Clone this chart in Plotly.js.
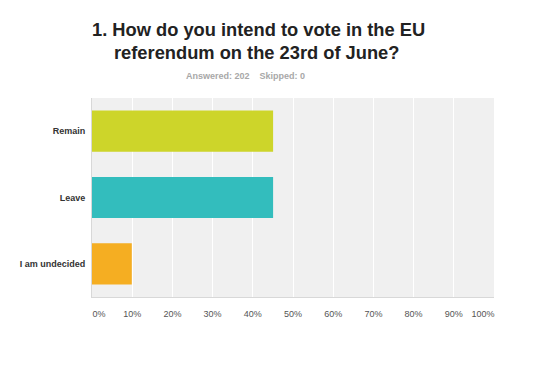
<!DOCTYPE html>
<html><head><meta charset="utf-8">
<script src="https://cdn.plot.ly/plotly-3.0.1.min.js"></script>
<style>html,body{margin:0;padding:0;background:#fff;}#chart{width:553px;height:369px;}</style>
</head><body><div id="chart"></div>
<script>
const categories = ["Remain", "Leave", "I am undecided"];
const percents = [45.05, 45.05, 9.90];
const barColors = ["#cdd52a", "#33bdbd", "#f5ae22"];
const tickVals = [10, 20, 30, 40, 50, 60, 70, 80, 90];
const tickText = ["10%", "20%", "30%", "40%", "50%", "60%", "70%", "80%", "90%"];
const firstTickVal = [0];
const firstTickText = ["0%"];
const lastTickVal = [100];
const lastTickText = ["100%"];
const titleLines = ["1. How do you intend to vote in the EU", "referendum on the 23rd of June?"];
const statsText = "Answered: 202 &nbsp;&nbsp; Skipped: 0";

const font = "Arial, 'Liberation Sans', sans-serif";
const tickFont = {size: 9, color: "#555555", family: font};
const trace = {
  type: "bar", orientation: "h",
  y: categories, x: percents,
  marker: {color: barColors},
  width: 0.62,
  hoverinfo: "none"
};
function overlayAxis(vals, text, shift) {
  return {
    overlaying: "x", range: [0, 100], tickvals: vals, ticktext: text,
    side: "bottom", showgrid: false, zeroline: false, showline: false,
    tickfont: tickFont, ticks: "", ticklabelstandoff: 10, ticklabelshift: shift
  };
}
const layout = {
  width: 553, height: 369,
  margin: {l: 92, r: 59, t: 98, b: 72},
  paper_bgcolor: "#ffffff", plot_bgcolor: "#f0f0f0",
  showlegend: false,
  font: {family: font},
  xaxis: {
    range: [0, 100], tickvals: tickVals, ticktext: tickText,
    showgrid: true, gridcolor: "#ffffff", gridwidth: 1,
    zeroline: false, showline: true, linecolor: "#d8d8d8", linewidth: 1,
    tickfont: tickFont, ticks: "", ticklabelstandoff: 8, fixedrange: true
  },
  xaxis2: overlayAxis(firstTickVal, firstTickText, 7),
  xaxis3: overlayAxis(lastTickVal, lastTickText, -11),
  yaxis: {
    autorange: "reversed", showgrid: false, zeroline: false,
    showline: true, linecolor: "#d8d8d8", linewidth: 1,
    tickfont: {size: 9, color: "#333333", family: font, weight: "bold"},
    ticks: "", ticklabelstandoff: 4
  },
  annotations: [
    {text: "<b>" + titleLines[0] + "</b>", xref: "paper", yref: "paper", x: -0.005, y: 1.0, yshift: 69,
     xanchor: "left", yanchor: "middle", showarrow: false, font: {size: 18.3, color: "#222222", family: font}},
    {text: "<b>" + titleLines[1] + "</b>", xref: "paper", yref: "paper", x: 0.05, y: 1.0, yshift: 46,
     xanchor: "left", yanchor: "middle", showarrow: false, font: {size: 18.3, color: "#222222", family: font}},
    {text: "<b>" + statsText + "</b>", xref: "paper", yref: "paper", x: 0.382, y: 1.0, yshift: 22,
     xanchor: "center", yanchor: "middle", showarrow: false, font: {size: 9, color: "#a8a8a8", family: font}}
  ]
};
const dummy2 = {type: "scatter", x: [0], y: [categories[0]], xaxis: "x2", mode: "markers", marker: {opacity: 0}, hoverinfo: "none"};
const dummy3 = {type: "scatter", x: [100], y: [categories[0]], xaxis: "x3", mode: "markers", marker: {opacity: 0}, hoverinfo: "none"};
Plotly.newPlot("chart", [trace, dummy2, dummy3], layout, {displayModeBar: false, staticPlot: true});
</script></body></html>
